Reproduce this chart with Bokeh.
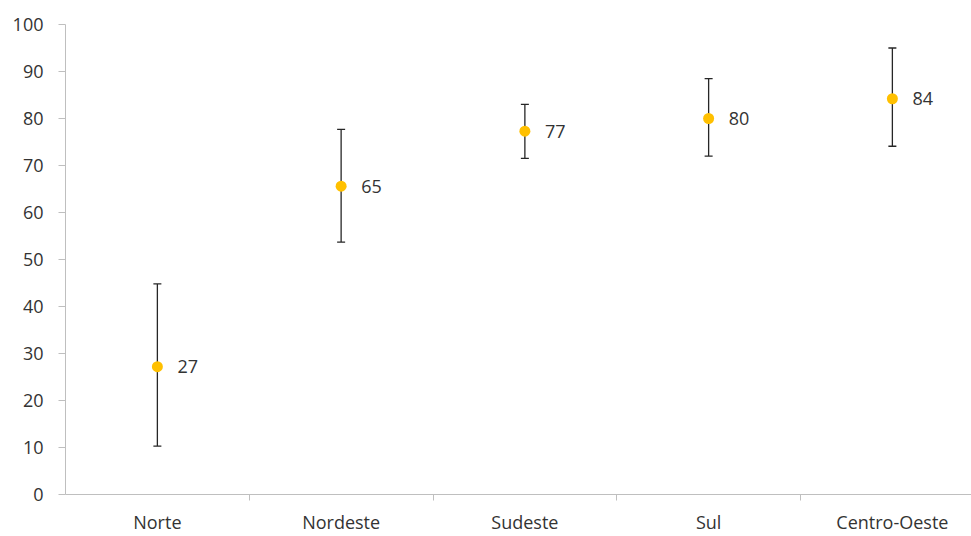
from bokeh.plotting import figure
from bokeh.models import FixedTicker, Range1d, ColumnDataSource, Whisker, TeeHead
from bokeh.core.properties import value
from bokeh.embed import file_html
from bokeh.resources import INLINE

regions = ["Norte", "Nordeste", "Sudeste", "Sul", "Centro-Oeste"]
means = [27.2, 65.6, 77.3, 80.0, 84.2]
lower = [10.3, 53.7, 71.5, 72.0, 74.1]
upper = [44.8, 77.7, 83.0, 88.5, 95.0]
labels = ["27", "65", "77", "80", "84"]
y_ticks = list(range(0, 101, 10))

xs = [i + 1 for i in range(len(regions))]
src = ColumnDataSource(dict(x=xs, y=means, lower=lower, upper=upper, label=labels))

FONT = "Open Sans"
AXIS_COL = "#BFBFBF"
TEXT_COL = "#333333"

p = figure(width=971, height=536, output_backend="svg", toolbar_location=None,
           x_range=Range1d(0.5, 0.5 + 906 / 183.75), y_range=Range1d(0, 100),
           min_border_left=65, min_border_right=0, min_border_top=24, min_border_bottom=30)
p.outline_line_color = None
p.xgrid.visible = False
p.ygrid.visible = False
p.background_fill_color = "white"
p.border_fill_color = "white"

w = Whisker(source=src, base="x", lower="lower", upper="upper", dimension="height",
            line_color="#262626", line_width=1.3,
            upper_head=TeeHead(size=8, line_color="#262626", line_width=1.3),
            lower_head=TeeHead(size=8, line_color="#262626", line_width=1.3))
p.add_layout(w)

p.scatter(x="x", y="y", source=src, size=11, fill_color="#FFC000", line_color=None)
p.text(x="x", y="y", text="label", source=src, x_offset=20, text_baseline="middle",
       text_align="left", text_font=value(FONT), text_font_size="18px", text_color=TEXT_COL)

ya = p.yaxis[0]
ya.ticker = FixedTicker(ticks=y_ticks)
ya.axis_line_color = AXIS_COL
ya.major_tick_line_color = AXIS_COL
ya.major_tick_out = 7
ya.major_tick_in = 0
ya.minor_tick_line_color = None
ya.major_label_standoff = 15
ya.major_label_text_font = FONT
ya.major_label_text_font_size = "18px"
ya.major_label_text_color = TEXT_COL

xa = p.xaxis[0]
xa.ticker = FixedTicker(ticks=xs, minor_ticks=[1.5, 2.5, 3.5, 4.5])
xa.major_label_overrides = {x: r for x, r in zip(xs, regions)}
xa.axis_line_color = AXIS_COL
xa.major_tick_line_color = None
xa.major_tick_out = 0
xa.major_tick_in = 0
xa.minor_tick_line_color = AXIS_COL
xa.minor_tick_out = 6
xa.minor_tick_in = 0
xa.major_label_standoff = 9
xa.major_label_text_font = FONT
xa.major_label_text_font_size = "18px"
xa.major_label_text_color = TEXT_COL

open("out.html", "w").write(file_html(p, INLINE))
